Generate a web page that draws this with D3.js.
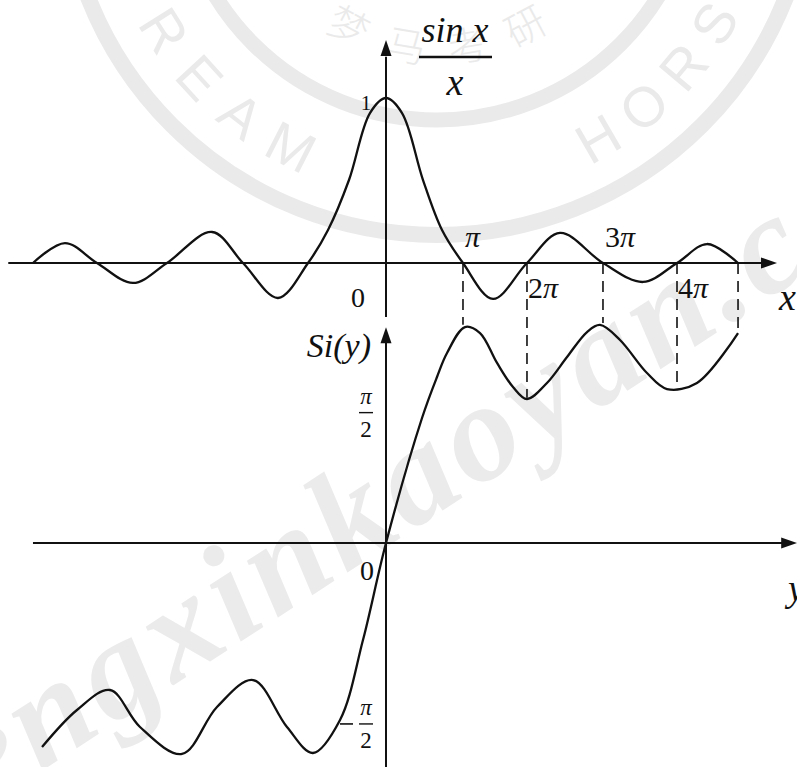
<!DOCTYPE html>
<html>
<head>
<meta charset="utf-8">
<script src="https://cdn.jsdelivr.net/npm/d3@7"></script>
<style>
  html, body { margin: 0; padding: 0; background: #fff; }
  svg { display: block; }
</style>
</head>
<body>
<svg id="chart" width="797" height="767"></svg>
<script>
// ---- data (x in multiples of π) ----
// upper panel: sin x / x
const sincX = [-4.645, -4.224, -3.803, -3.329, -2.882, -2.289, -1.882, -1.421, -1.026,
               -0.763, -0.487, -0.211, 0, 0.211, 0.487, 0.737, 1.013, 1.408, 1.855,
               2.289, 2.855, 3.382, 3.829, 4.224, 4.632];
const sincY = [0, 0.121, 0, -0.121, 0, 0.188, 0, -0.212, 0,
               0.200, 0.503, 0.909, 1, 0.909, 0.503, 0.200, 0, -0.218, 0,
               0.182, 0, -0.115, 0, 0.115, 0];

// lower panel: Si(y)
const siX = [-4.526, -4.066, -3.632, -3.237, -2.684, -2.224, -1.750, -1.303, -0.961,
             -0.605, -0.303, 0, 0.474, 0.671, 0.803, 1.039, 1.237, 1.461, 1.671, 1.855,
             2.118, 2.382, 2.645, 2.816, 3.079, 3.434, 3.697, 4.092, 4.632];
const siY = [-2.458, -2.012, -1.771, -2.217, -2.542, -1.976, -1.651, -2.217, -2.530,
             -2.133, -1.169, 0, 1.506, 2.000, 2.289, 2.602, 2.530, 2.169, 1.880, 1.735,
             1.928, 2.241, 2.542, 2.627, 2.446, 2.048, 1.855, 1.928, 2.530];

// dashed drop lines: zeros of sin x / x and where they meet Si(y)
const dropX = [1.013, 1.855, 2.855, 3.829, 4.632];
const dropY = [2.63, 1.75, 2.65, 1.88, 2.53];

// tick labels
const piTickX = [1.013, 1.855, 2.855, 3.829];
const piTickCoef = ["", "2", "3", "4"];
const siTickY = [1.5708, -2.18];
const siTickSign = ["", "−"];

// ---- scales ----
const x = d3.scaleLinear().domain([0, 1]).range([386, 462]);
const yTop = d3.scaleLinear().domain([0, 1]).range([263, 98]);
const yBot = d3.scaleLinear().domain([0, 1]).range([543, 460]);

const svg = d3.select("#chart");
const INK = "#111";
const SERIF = "'Liberation Serif', 'DejaVu Serif', serif";

// ---- faint stamp in the background ----
const wm = svg.append("g").attr("class", "stamp");
const WM = "#eaeaea";
const cx = 437, cy = -140;
wm.append("circle").attr("cx", cx).attr("cy", cy).attr("r", 375)
  .attr("fill", "none").attr("stroke", WM).attr("stroke-width", 16);
wm.append("circle").attr("cx", cx).attr("cy", cy).attr("r", 260)
  .attr("fill", "none").attr("stroke", WM).attr("stroke-width", 15);

const ringLetters = [
  ["R", -58], ["E", -47.5], ["A", -37.5], ["M", -27],
  ["H", 30], ["O", 40], ["R", 50], ["S", 59.5]
];
ringLetters.forEach(([ch, a]) => {
  const t = a * Math.PI / 180, r = 322;
  wm.append("text")
    .attr("transform", `translate(${cx + r * Math.sin(t)},${cy + r * Math.cos(t)}) rotate(${-a})`)
    .attr("text-anchor", "middle").attr("dominant-baseline", "central")
    .attr("font-family", "'Liberation Sans', Arial, sans-serif")
    .attr("font-size", 56).attr("fill", WM).text(ch);
});
["梦", "马", "考", "研"].forEach((ch, i) => {
  const a = [-28, -9.5, 9.5, 28][i], t = a * Math.PI / 180, r = 186;
  wm.append("text")
    .attr("transform", `translate(${cx + r * Math.sin(t)},${cy + r * Math.cos(t)}) rotate(${-a})`)
    .attr("text-anchor", "middle").attr("dominant-baseline", "central")
    .attr("font-family", "'Noto Sans CJK SC', sans-serif")
    .attr("font-size", 40).attr("font-weight", 300).attr("fill", WM).text(ch);
});
const diag = wm.append("g").attr("transform", "translate(40,772) rotate(-33)")
  .attr("font-family", SERIF).attr("font-style", "italic").attr("font-weight", "bold")
  .attr("font-size", 140).attr("letter-spacing", 6).attr("fill", "#ebebeb");
diag.append("text").attr("text-anchor", "end").text("me");
diag.append("text").attr("text-anchor", "start").text("ngxinkaoyan.com");

// ---- axes ----
function axisLine(x1, y1, x2, y2) {
  svg.append("line").attr("x1", x1).attr("y1", y1).attr("x2", x2).attr("y2", y2)
    .attr("stroke", INK).attr("stroke-width", 2);
}
function arrow(tx, ty, dir) {
  const L = 16, W = 5.5;
  let pts;
  if (dir === "right") pts = [[tx, ty], [tx - L, ty - W], [tx - L, ty + W]];
  else pts = [[tx, ty], [tx - W, ty + L], [tx + W, ty + L]];
  svg.append("path").attr("d", d3.line()(pts) + "Z").attr("fill", INK);
}

// upper panel axes
axisLine(x(-4.97), yTop(0), x(5.0), yTop(0));
arrow(x(5.145), yTop(0), "right");
axisLine(x(0), yTop(1.25), x(0), yTop(-0.327));
arrow(x(0), yTop(1.352), "up");

// lower panel axes
axisLine(x(-4.645), yBot(0), x(5.25), yBot(0));
arrow(x(5.41), yBot(0), "right");
axisLine(x(0), yBot(2.45), x(0), 767);
arrow(x(0), yBot(2.60), "up");

// ---- dashed drop lines ----
svg.append("g").selectAll("line").data(dropX).join("line")
  .attr("x1", d => x(d)).attr("x2", d => x(d))
  .attr("y1", yTop(0))
  .attr("y2", (d, i) => yBot(dropY[i]))
  .attr("stroke", INK).attr("stroke-width", 1.6)
  .attr("stroke-dasharray", "11,7");

// ---- curves ----
const sincPts = sincX.map((v, i) => [x(v), yTop(sincY[i])]);
const siPts = siX.map((v, i) => [x(v), yBot(siY[i])]);
const curve = d3.line().curve(d3.curveCatmullRom.alpha(0.5));
svg.append("path").attr("d", curve(sincPts))
  .attr("fill", "none").attr("stroke", INK).attr("stroke-width", 2.3);
svg.append("path").attr("d", curve(siPts))
  .attr("fill", "none").attr("stroke", INK).attr("stroke-width", 2.3);

// ---- labels ----
function txt(px, py, str, size, opts = {}) {
  return svg.append("text").attr("x", px).attr("y", py)
    .attr("font-family", SERIF).attr("font-size", size)
    .attr("font-style", opts.italic ? "italic" : "normal")
    .attr("text-anchor", opts.anchor || "middle")
    .attr("fill", INK).text(str);
}

// upper panel
txt(x(0) - 20, yTop(1) + 12, "1", 21);
txt(x(0) - 28, yTop(0) + 44, "0", 28);
txt(779, 310, "x", 38, { italic: true, anchor: "start" });
txt(455, 42, "sin x", 36, { italic: true });
svg.append("line").attr("x1", 419).attr("x2", 492).attr("y1", 57).attr("y2", 57)
  .attr("stroke", INK).attr("stroke-width", 2.4);
txt(455, 95, "x", 38, { italic: true });

piTickX.forEach((v, i) => {
  const above = i % 2 === 0;
  const t = svg.append("text")
    .attr("x", x(v) + (above ? 2 : 1))
    .attr("y", above ? yTop(0) - 16 : yTop(0) + 35)
    .attr("font-family", SERIF).attr("font-size", 30).attr("fill", INK);
  if (piTickCoef[i]) t.append("tspan").text(piTickCoef[i]);
  t.append("tspan").attr("font-style", "italic").text("π");
});

// lower panel
txt(x(0) - 19, yBot(0) + 37, "0", 28);
txt(788, 601, "y", 38, { italic: true, anchor: "start" });
txt(371, 357, "Si(y)", 34, { italic: true, anchor: "end" });

siTickY.forEach((v, i) => {
  const cxL = x(0) - 20, cyL = yBot(v);
  txt(cxL, cyL - 9, "π", 23, { italic: true });
  svg.append("line").attr("x1", cxL - 7).attr("x2", cxL + 7)
    .attr("y1", cyL).attr("y2", cyL).attr("stroke", INK).attr("stroke-width", 1.4);
  txt(cxL, cyL + 24, "2", 23);
  if (siTickSign[i]) {
    svg.append("line").attr("x1", cxL - 26).attr("x2", cxL - 13)
      .attr("y1", cyL).attr("y2", cyL).attr("stroke", INK).attr("stroke-width", 1.6);
  }
});
</script>
</body>
</html>
